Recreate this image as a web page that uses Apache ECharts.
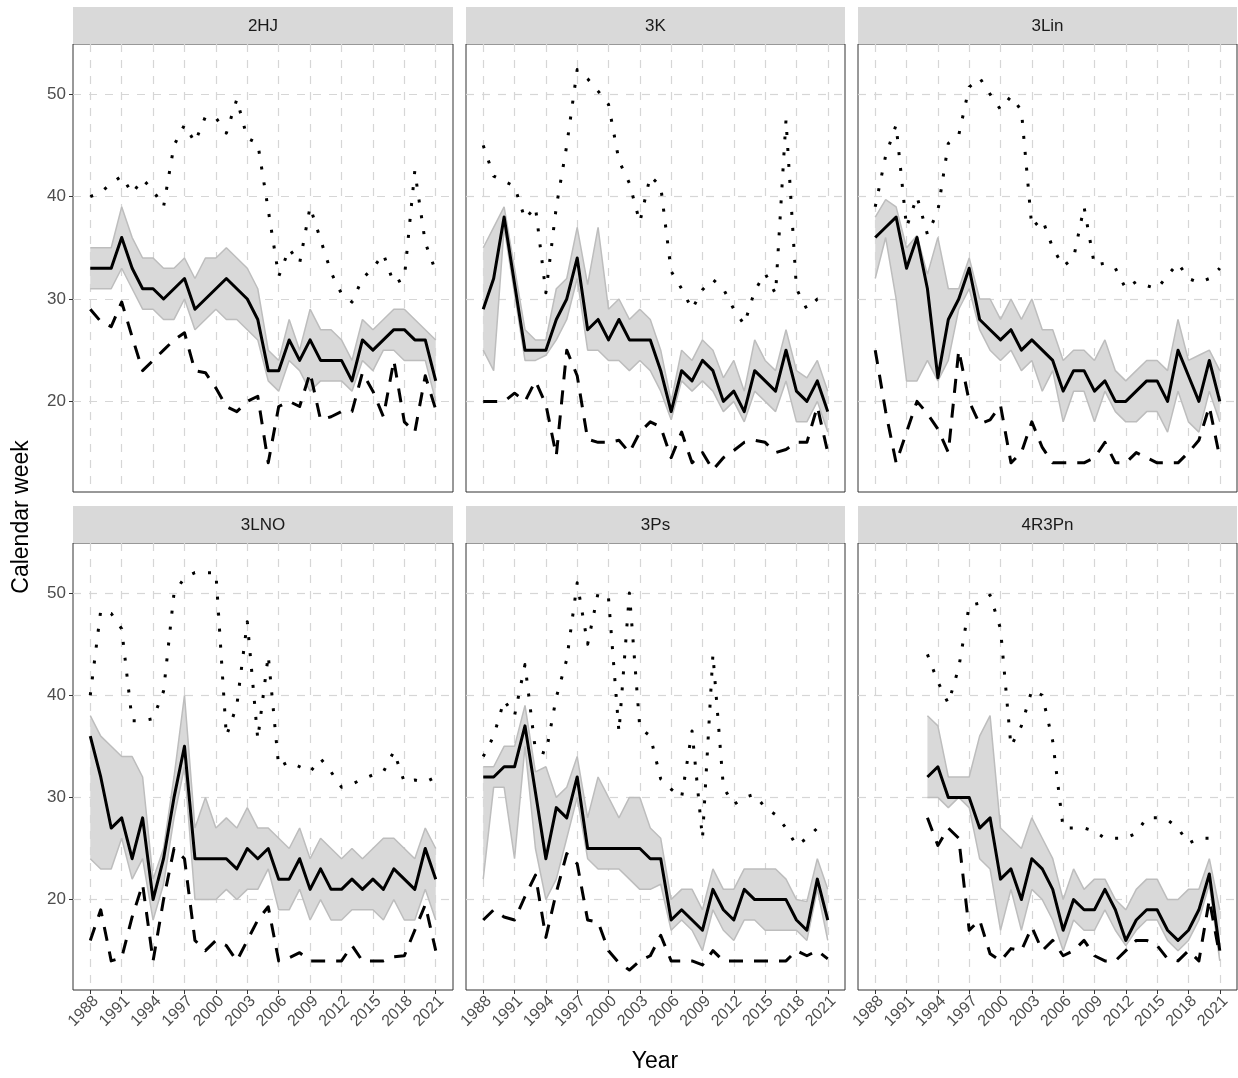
<!DOCTYPE html>
<html><head><meta charset="utf-8">
<script src="https://cdn.jsdelivr.net/npm/echarts@6/dist/echarts.min.js"></script>
<style>html,body{margin:0;padding:0;background:#fff}#c{width:1238px;height:1078px}</style>
</head><body><div id="c"></div>
<script>
const years = [1988,1989,1990,1991,1992,1993,1994,1995,1996,1997,1998,1999,2000,2001,2002,2003,2004,2005,2006,2007,2008,2009,2010,2011,2012,2013,2014,2015,2016,2017,2018,2019,2020,2021];
const tickYears = [1988,1991,1994,1997,2000,2003,2006,2009,2012,2015,2018,2021];
const yTicks = [20,30,40,50];
const panelNames = ['2HJ','3K','3Lin','3LNO','3Ps','4R3Pn'];

const median_2HJ = [33,33,33,36,33,31,31,30,31,32, 29,30,31,32,31,30,28,23,23,26, 24,26,24,24,24,22,26,25,26,27, 27,26,26,22];
const upper_2HJ  = [35,35,35,39,36,34,34,33,33,34, 32,34,34,35,34,33,31,25,24,28, 25,29,27,27,26,24,28,27,28,29, 29,28,27,26];
const lower_2HJ  = [31,31,31,33,31,29,29,28,28,30, 27,28,29,28,28,27,26,22,21,24, 23,21,22,22,22,21,24,23,25,25, 24,24,24,20];
const max_2HJ    = [40,40.4,41.3,42,40.3,41.7,40.6,39,45,47, 45.3,47.8,47.7,46.2,49.5,45.7,45.2,38.7,32.2,34.9, 33.5,39,35.8,32.6,30.5,29.7,32,33,34.4,31.5, 32,42.5,35.5,32.7];
const min_2HJ    = [29,27.8,27.3,29.7,26.3,23,24,25,26,26.7, 23,22.8,21.3,19.5,19,20,20.5,14,19.5,20, 19.5,22.8,18.2,18.5,19,19,22.8,21,18.5,24, 18,17,22.5,19.2];

const median_3K = [29,32,38,31.5,25,25,25,28,30,34, 27,28,26,28,26,26,26,23,19,23, 22,24,23,20,21,19,23,22,21,25, 21,20,22,19];
const upper_3K  = [35,37,39,33,27,26,26,31,32,37, 31.4,37,29,30,28,29,28,25,20,25, 24,26,25,22.3,24,21,26,24,23,27, 23,22.3,24,21];
const lower_3K  = [25,23,37,30.5,24,24,24.5,26,28,32, 25,25,24,24,23,24,23,21,18.2,22, 21,22,21,19,20,18,21,20,19,22, 18,18,20,17];
const max_3K    = [45,42,41.5,41,37.8,39,30.6,39,45,52.4, 51.5,50.3,49,43.5,41.3,37.5,42,41,32.7,31, 29,30.9,31.9,31,29,27.5,30.8,32.5,30.5,47.5, 31,29,30,30];
const min_3K    = [20,20,20,20.8,20,22,19.7,14.7,25,22.5, 16.3,16,16,16.2,15,17,18,17.5,14.5,17, 14,15,13.3,14.5,15.2,16,16.2,16,15,15.3, 16,16,19.5,15];

const median_3Lin = [36,37,38,33,36,31,22.3,28,30,33, 28,27,26,27,25,26,25,24,21,23, 23,21,22,20,20,21,22,22,20,25, 22.5,20,24,20];
const upper_3Lin  = [38,39.7,39,35,36.2,32.4,36,31,31,34, 30,30,28,30,28,30,27,27,24,25, 25,24,26,23,22,23,24,24,23,28, 24,24.5,25,23];
const lower_3Lin  = [32,36,30,22,22,24,22,24,29,31, 27,25,24,25,23,24,21,23,18,21, 21,18,21,19,18,18,19,19,17,21, 18,17,21,18];
const max_3Lin    = [39,44,47,37,40,36.3,38.6,45.2,46,50.7, 51.6,50,48.5,49.8,48.4,37,37.8,35,33.2,34, 39,33.3,33.5,33,31,31.7,31.3,31,32.3,33.5, 32,31.6,32,33];
const min_3Lin    = [25,19,14,17,20,18.8,17.3,15,25,20, 17.8,18.2,19.6,14,15,18,15.5,14,14,14, 14,14.5,16,14,14,15,14.5,14,14,14, 15,16.2,19.5,14.5];

const median_3LNO = [36,32,27,28,24,28,20,24,30,35, 24,24,24,24,23,25,24,25,22,22, 24,21,23,21,21,22,21,22,21,23, 22,21,25,22];
const upper_3LNO  = [38,36,35,34,34,32,22,25,32,40, 27,30,27,28,27,29,27,27,26,25, 27,24,26,25,24,25,24,25,26,26, 25,24,27,25];
const lower_3LNO  = [24,23,23,26,22,24,18,21.5,28,33, 20,20,20,21,20,21,21,23,19,19, 21,18,20,18,18,19,19,19,18,20, 18,18,21,18];
const max_3LNO    = [40,48.3,48,46.5,37.5,37.5,37.7,40.4,50,51.5, 52,52,52,36,39,47.2,35.7,43.9,33,33.5, 33,32.5,33.8,32.5,31,31.3,31.8,32.2,32.5,34.5, 31.5,31.7,31.5,32];
const min_3LNO    = [16,19,14,14.3,18.3,21.5,14,20,25,24, 16,15,16,15.5,14,16,18,19.3,14,14.3, 14.8,14,14,14,14,15.5,14,14,14,14.4, 14.5,17,19.5,15];

const median_3Ps = [32,32,33,33,37,30.5,24,29,28,32, 25,25,25,25,25,25,24,24,18,19, 18,17,21,19,18,21,20,20,20,20, 18,17,22,18];
const upper_3Ps  = [33,33,35,35,39,32.5,33,30,31,34, 28,32,30,28,30,30,27,26,20,21, 21,19,23,21,21,23,23,23,23,22, 20,19.8,24,21];
const lower_3Ps  = [22,31,31,24,35,25,20,22,26,30, 24,23,23,23,22,21,21,21.5,17,18, 17,15,19,17,16,18,18,17,17,17, 17,16,21,16];
const max_3Ps    = [34,36,39.5,38,43,34.6,34.3,39.8,43.5,51, 45,50,49.5,36.4,50,36.8,36,31.8,30.8,30, 36.5,26,44,31,29.3,30,30.3,29,28.3,27, 25.3,26,27,27];
const min_3Ps    = [18,19,18.3,18,20.3,22.4,16.3,20.7,24.5,23.5, 18,17.8,15,13.8,13.1,14,14.5,16.5,14,14, 14,13.6,15,14,14,14,14,14,14,14, 15,14.5,15,14.2];

const median_4R3Pn = [null,null,null,null,null,32,33,30,30,30, 27,28,22,23,20,24,23,21,17,20, 19,19,21,19,16,18,19,19,17,16, 17,19,22.5,15];
const upper_4R3Pn  = [null,null,null,null,null,38,37,32,32,32, 36,38,27,26,25,28,26,24,20,23, 21,22,22,20,19,21,22,22,20,20, 21,21,24,19];
const lower_4R3Pn  = [null,null,null,null,null,30,30,29,30,29, 24,23,17,21,17,21,20,18,15,18, 17,17,19,17,15.5,17,18,18,16,15, 16,18,21.5,14];
const max_4R3Pn    = [null,null,null,null,null,44,41.3,39.2,42.7,48.8, 49,49.8,46.5,35,37,40.5,40,35.5,27,27, 27,26.7,26,26,26,26.5,28,28,27.8,27, 25.5,26,26,26];
const min_4R3Pn    = [null,null,null,null,null,28,25.3,27,26,17, 18,14.7,14,15.2,15,17.3,15,16,14.5,15, 16,14.5,14,14,15,16,16,15.5,14.2,14, 15,14,20,14.5];

const panelData = [
  {median: median_2HJ, upper: upper_2HJ, lower: lower_2HJ, max: max_2HJ, min: min_2HJ},
  {median: median_3K, upper: upper_3K, lower: lower_3K, max: max_3K, min: min_3K},
  {median: median_3Lin, upper: upper_3Lin, lower: lower_3Lin, max: max_3Lin, min: min_3Lin},
  {median: median_3LNO, upper: upper_3LNO, lower: lower_3LNO, max: max_3LNO, min: min_3LNO},
  {median: median_3Ps, upper: upper_3Ps, lower: lower_3Ps, max: max_3Ps, min: min_3Ps},
  {median: median_4R3Pn, upper: upper_4R3Pn, lower: lower_4R3Pn, max: max_4R3Pn, min: min_4R3Pn}
];

function pairs(arr){ const out=[]; arr.forEach((v,i)=>{ if(v!=null) out.push([years[i], v]); }); return out; }
function ribbonSeries(i, up, lo){
  const pts = [];
  years.forEach((y,k)=>{ if(up[k]!=null && lo[k]!=null) pts.push([y, lo[k], up[k]]); });
  return {type:'custom', xAxisIndex:i, yAxisIndex:i, data:pts, encode:{x:0, y:[1,2]}, silent:true, animation:false,
    renderItem:function(params, api){
      if (params.dataIndex !== 0) return null;
      const top = pts.map(p=>api.coord([p[0], p[2]]));
      const bot = pts.map(p=>api.coord([p[0], p[1]])).reverse();
      return {type:'polygon', shape:{points: top.concat(bot)}, style:{fill:'#D9D9D9', stroke:null}};
    }};
}

const FONT = '"Liberation Sans", Arial, sans-serif';
const gridPos = [[73,44,380,448],[466,44,379,448],[858,44,379,448],[73,543,380,447],[466,543,379,447],[858,543,379,447]];
const gridLineStyle = {color:'#D6D6D6', width:1.2, type:[8,8]};

const grids = [], xAxes = [], yAxes = [], series = [], graphics = [];
gridPos.forEach((g,i)=>{
  grids.push({left:g[0], top:g[1], width:g[2], height:g[3], show:true, borderColor:'#333333', borderWidth:1, backgroundColor:'#ffffff', containLabel:false, outerBoundsMode:'none'});
  const bottom = i>=3, left = (i%3===0);
  xAxes.push({type:'value', gridIndex:i, min:1986.35, max:2022.65,
    axisLine:{show:false},
    axisTick:{show:bottom, customValues:tickYears, length:4, lineStyle:{color:'#333333', width:1}},
    axisLabel:{show:bottom, customValues:tickYears, rotate:45, fontSize:16, color:'#4D4D4D', fontFamily:FONT, margin:3, verticalAlign:'top', formatter:v=>String(v)},
    splitLine:{show:true, lineStyle:gridLineStyle}});
  yAxes.push({type:'value', gridIndex:i, min:11.15, max:54.9,
    axisLine:{show:false},
    axisTick:{show:left, customValues:yTicks, length:4, lineStyle:{color:'#333333', width:1}},
    axisLabel:{show:left, customValues:yTicks, fontSize:17, color:'#4D4D4D', fontFamily:FONT, margin:7},
    splitLine:{show:true, lineStyle:gridLineStyle}});
  const d = panelData[i];
  const common = {type:'line', xAxisIndex:i, yAxisIndex:i, symbol:'none', smooth:false, animation:false, silent:true};
  series.push(ribbonSeries(i, d.upper, d.lower));
  series.push(Object.assign({}, common, {name:'lower'+i, data:pairs(d.lower), lineStyle:{color:'#BDBDBD', width:1.5}}));
  series.push(Object.assign({}, common, {name:'upper'+i, data:pairs(d.upper), lineStyle:{color:'#BDBDBD', width:1.5}}));
  series.push(Object.assign({}, common, {name:'min'+i, data:pairs(d.min), lineStyle:{color:'#000', width:3, type:[14,11], cap:'butt', join:'round'}}));
  series.push(Object.assign({}, common, {name:'max'+i, data:pairs(d.max), lineStyle:{color:'#000', width:3, type:[3,13], cap:'butt', join:'round'}}));
  series.push(Object.assign({}, common, {name:'median'+i, data:pairs(d.median), lineStyle:{color:'#000', width:3, join:'round'}}));
  const sy = g[1]-37;
  graphics.push({type:'rect', shape:{x:g[0], y:sy, width:g[2], height:37}, style:{fill:'#D9D9D9', stroke:null}, silent:true});
  graphics.push({type:'text', x:g[0]+g[2]/2, y:sy+19, style:{text:panelNames[i], fill:'#1A1A1A', font:'17px '+FONT, align:'center', verticalAlign:'middle'}, silent:true});
});
graphics.push({type:'text', x:22, y:517, rotation:Math.PI/2, style:{text:'Calendar week', fill:'#000', font:'23px '+FONT, align:'center', verticalAlign:'middle'}, silent:true});
graphics.push({type:'text', x:655, y:1062, style:{text:'Year', fill:'#000', font:'23px '+FONT, align:'center', verticalAlign:'middle'}, silent:true});

const chart = echarts.init(document.getElementById('c'), null, {renderer:'canvas'});
chart.setOption({animation:false, backgroundColor:'#ffffff', grid:grids, xAxis:xAxes, yAxis:yAxes, series:series, graphic:graphics});
</script></body></html>
